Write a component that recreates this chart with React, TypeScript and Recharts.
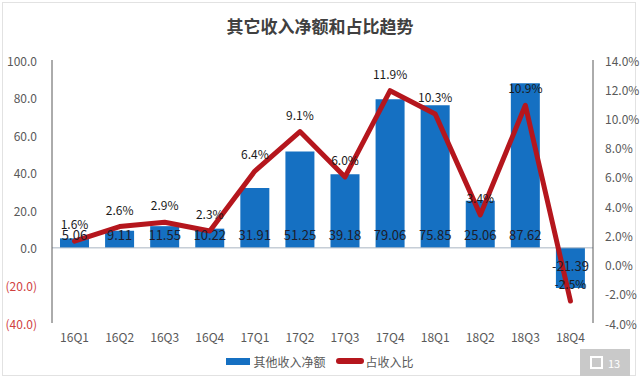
import React from 'react';
import { ComposedChart, Bar, Line, XAxis, YAxis, ReferenceLine, LabelList, Legend } from 'recharts';

const categories = ['16Q1', '16Q2', '16Q3', '16Q4', '17Q1', '17Q2', '17Q3', '17Q4', '18Q1', '18Q2', '18Q3', '18Q4'];
const otherIncome = [5.06, 9.11, 11.55, 10.22, 31.91, 51.25, 39.18, 79.06, 75.85, 25.06, 87.62, -21.39];
const incomeRatio = [1.6, 2.6, 2.9, 2.3, 6.4, 9.1, 6.0, 11.9, 10.3, 3.4, 10.9, -2.5];
const leftTicks = [-40, -20, 0, 20, 40, 60, 80, 100];
const leftMinorTicks = [-40, -36, -32, -28, -24, -20, -16, -12, -8, -4, 0, 4, 8, 12, 16, 20, 24, 28, 32, 36, 40, 44, 48, 52, 56, 60, 64, 68, 72, 76, 80, 84, 88, 92, 96, 100];
const rightTicks = [-4, -2, 0, 2, 4, 6, 8, 10, 12, 14];
const seriesNames = ['其他收入净额', '占收入比'];
const title = '其它收入净额和占比趋势';

const BLUE = '#1570c2';
const RED = '#b5161d';
const AXIS = '#595959';
const FONT = "'Noto Sans CJK SC', 'Noto Sans', sans-serif";

const data = categories.map((c, i) => ({ name: c, income: otherIncome[i], ratio: incomeRatio[i] }));

const LeftTick = (props: any) => {
  const { x, y, payload } = props;
  const v = payload.value as number;
  const label = v < 0 ? `(${Math.abs(v).toFixed(1)})` : v.toFixed(1);
  return (
    <text x={x} y={y} textAnchor="end" dominantBaseline="central" fontSize={12} fontFamily={FONT} fill={v < 0 ? '#d0413f' : AXIS}>
      {label}
    </text>
  );
};

const RightTick = (props: any) => {
  const { x, y, payload } = props;
  const v = payload.value as number;
  return (
    <text x={x} y={y} textAnchor="start" dominantBaseline="central" fontSize={12} fontFamily={FONT} fill={AXIS}>
      {`${v.toFixed(1)}%`}
    </text>
  );
};

const BarValueLabel = (props: any) => {
  const { x, y, width, height, value } = props;
  const v = Number(value);
  const base = v >= 0 ? Math.max(y, y + height) : Math.min(y, y + height);
  const ty = v >= 0 ? base - 13 : base + 18;
  return (
    <text x={x + width / 2} y={ty} textAnchor="middle" dominantBaseline="central" fontSize={13} fontFamily={FONT} fill="#1d1d2b">
      {v.toFixed(2)}
    </text>
  );
};

const LegendContent = () => (
  <div style={{ display: 'flex', justifyContent: 'center', alignItems: 'center', height: 20, fontFamily: FONT, fontSize: 12, color: AXIS }}>
    <span style={{ display: 'inline-block', width: 24, height: 7, background: BLUE, marginRight: 3 }} />
    <span style={{ marginRight: 10 }}>{seriesNames[0]}</span>
    <span style={{ display: 'inline-block', width: 28, height: 6, background: RED, borderRadius: 3, marginRight: 2 }} />
    <span>{seriesNames[1]}</span>
  </div>
);

export default function App() {
  return (
    <div style={{ position: 'fixed', left: 0, top: 0, width: 640, height: 379, background: '#fff', overflow: 'hidden' }}>
      <div style={{ position: 'absolute', left: 2, top: 2, width: 634, height: 374, border: '1px solid #e2e2e2', boxSizing: 'border-box' }} />
      <div style={{ position: 'absolute', left: 0, top: 13, width: 640, textAlign: 'center', fontFamily: FONT, fontWeight: 700, fontSize: 17, color: '#404040' }}>
        {title}
      </div>
      <ComposedChart width={640} height={379} data={data} margin={{ top: 60, right: 0, bottom: 10, left: 0 }} barSize={29}>
        <XAxis dataKey="name" xAxisId={0} axisLine={false} tickLine={false} height={26} tickMargin={4}
          tick={{ fontSize: 12, fill: AXIS, fontFamily: FONT }} interval={0} />
        <YAxis yAxisId="left" orientation="left" width={52} domain={[-40, 100]} ticks={leftTicks} interval={0}
          axisLine={{ stroke: AXIS }} tickLine={false} tickMargin={9} tick={<LeftTick />} />
        <YAxis yAxisId="leftMinor" orientation="left" mirror width={8} domain={[-40, 100]} ticks={leftMinorTicks} interval={0}
          axisLine={false} tick={false} tickLine={{ stroke: AXIS }} tickSize={4} />
        <YAxis yAxisId="right" orientation="right" width={47} domain={[-4, 14]} ticks={rightTicks} interval={0}
          axisLine={{ stroke: AXIS }} tickLine={false} tickMargin={6} tick={<RightTick />} />
        <YAxis yAxisId="rightMinor" orientation="right" mirror width={8} domain={[-4, 14]} ticks={rightTicks} interval={0}
          axisLine={false} tick={false} tickLine={{ stroke: AXIS }} tickSize={5} />
        <ReferenceLine yAxisId="left" y={0} stroke="#a9b4c2" strokeWidth={1} />
        <Bar yAxisId="left" dataKey="income" name={seriesNames[0]} fill={BLUE} isAnimationActive={false}>
          <LabelList dataKey="income" content={<BarValueLabel />} />
        </Bar>
        <Line yAxisId="right" dataKey="ratio" name={seriesNames[1]} type="linear" stroke={RED} strokeWidth={5}
          strokeLinejoin="round" strokeLinecap="round" dot={false} activeDot={false} isAnimationActive={false}>
          <LabelList dataKey="ratio" position="top" offset={12} fontSize={12} fontFamily={FONT} fill="#1a1a1a"
            formatter={(v: any) => `${Number(v).toFixed(1)}%`} />
        </Line>
        <Legend verticalAlign="bottom" align="center" content={<LegendContent />} wrapperStyle={{ bottom: 8 }} />
      </ComposedChart>
      <div style={{ position: 'absolute', left: 580, top: 349, width: 50, height: 27, background: '#c9c9c9', display: 'flex', alignItems: 'center', justifyContent: 'center', fontFamily: FONT, fontSize: 11, color: '#fff' }}>
        <span style={{ display: 'inline-block', width: 13, height: 13, border: '2px solid #fff', marginRight: 5, boxSizing: 'border-box' }} />
        <span>13</span>
      </div>
    </div>
  );
}
